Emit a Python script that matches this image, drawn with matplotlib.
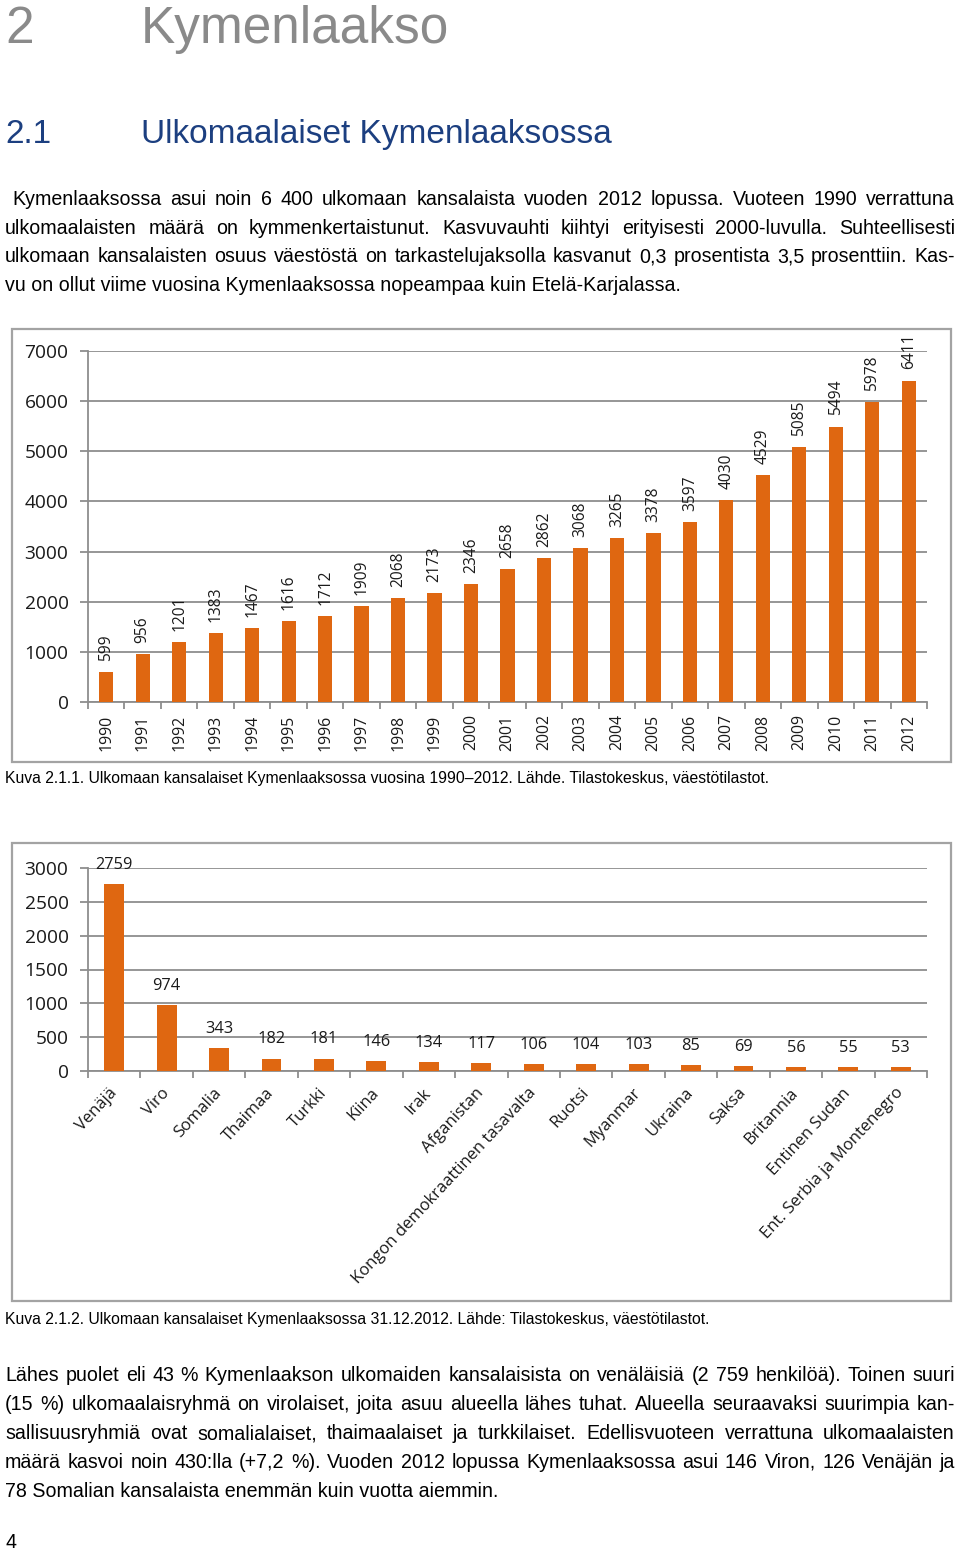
import matplotlib
matplotlib.use('Agg')
import matplotlib.pyplot as plt
from matplotlib.patches import Rectangle
import numpy as np

# ---------------- data ----------------
years = [str(y) for y in range(1990, 2013)]
foreigners = [599, 956, 1201, 1383, 1467, 1616, 1712, 1909, 2068, 2173, 2346,
              2658, 2862, 3068, 3265, 3378, 3597, 4030, 4529, 5085, 5494, 5978, 6411]
y1_ticks = [0, 1000, 2000, 3000, 4000, 5000, 6000, 7000]

countries = ['Venäjä', 'Viro', 'Somalia', 'Thaimaa', 'Turkki', 'Kiina', 'Irak',
             'Afganistan', 'Kongon demokraattinen tasavalta', 'Ruotsi', 'Myanmar',
             'Ukraina', 'Saksa', 'Britannia', 'Entinen Sudan', 'Ent. Serbia ja Montenegro']
country_counts = [2759, 974, 343, 182, 181, 146, 134, 117, 106, 104, 103, 85, 69, 56, 55, 53]
y2_ticks = [0, 500, 1000, 1500, 2000, 2500, 3000]

title_num = '2'
title_text = 'Kymenlaakso'
sub_num = '2.1'
sub_text = 'Ulkomaalaiset Kymenlaaksossa'
para1 = [
    'Kymenlaaksossa asui noin 6 400 ulkomaan kansalaista vuoden 2012 lopussa. Vuoteen 1990 verrattuna',
    'ulkomaalaisten määrä on kymmenkertaistunut. Kasvuvauhti kiihtyi erityisesti 2000-luvulla. Suhteellisesti',
    'ulkomaan kansalaisten osuus väestöstä on tarkastelujaksolla kasvanut 0,3 prosentista 3,5 prosenttiin. Kas-',
    'vu on ollut viime vuosina Kymenlaaksossa nopeampaa kuin Etelä-Karjalassa.',
]
caption1 = 'Kuva 2.1.1. Ulkomaan kansalaiset Kymenlaaksossa vuosina 1990–2012. Lähde. Tilastokeskus, väestötilastot.'
caption2 = 'Kuva 2.1.2. Ulkomaan kansalaiset Kymenlaaksossa 31.12.2012. Lähde: Tilastokeskus, väestötilastot.'
para2 = [
    'Lähes puolet eli 43 % Kymenlaakson ulkomaiden kansalaisista on venäläisiä (2 759 henkilöä). Toinen suuri',
    '(15 %) ulkomaalaisryhmä on virolaiset, joita asuu alueella lähes tuhat. Alueella seuraavaksi suurimpia kan-',
    'sallisuusryhmiä ovat somalialaiset, thaimaalaiset ja turkkilaiset. Edellisvuoteen verrattuna ulkomaalaisten',
    'määrä kasvoi noin 430:lla (+7,2 %). Vuoden 2012 lopussa Kymenlaaksossa asui 146 Viron, 126 Venäjän ja',
    '78 Somalian kansalaista enemmän kuin vuotta aiemmin.',
]
page_no = '4'

# ---------------- style ----------------
W, H = 960, 1552
BAR = '#DF6711'
GRID = '#8E8E8E'
BORDER = '#A3A3A3'
INK = '#1A1A1A'
CHART_FONT = 'Open Sans'
TEXT_FONT = 'Liberation Sans'

fig = plt.figure(figsize=(W / 100, H / 100), dpi=100)
fig.patch.set_facecolor('white')


def fx(x):
    return x / W


def fy(y):
    return 1 - y / H


renderer = fig.canvas.get_renderer()


def word_width(w, size):
    t = fig.text(0, 0, w, fontsize=size, family=TEXT_FONT)
    wd = t.get_window_extent(renderer).width
    t.remove()
    return wd


def text_line(txt, x0, x1, baseline, size, justify=True, color='black'):
    if not justify:
        fig.text(fx(x0), fy(baseline), txt, fontsize=size, family=TEXT_FONT,
                 va='baseline', ha='left', color=color)
        return
    words = txt.split(' ')
    widths = [word_width(w, size) for w in words]
    gap = (x1 - x0 - sum(widths)) / (len(words) - 1)
    x = x0
    for w, wd in zip(words, widths):
        fig.text(fx(x), fy(baseline), w, fontsize=size, family=TEXT_FONT,
                 va='baseline', ha='left', color=color)
        x += wd + gap


# ---------------- headings & text ----------------
fig.text(fx(5), fy(43), title_num, fontsize=37, family=TEXT_FONT, color='#8A8A8A', va='baseline')
fig.text(fx(141), fy(43), title_text, fontsize=37, family=TEXT_FONT, color='#8A8A8A', va='baseline')
fig.text(fx(5), fy(143), sub_num, fontsize=24, family=TEXT_FONT, color='#1C3F80', va='baseline')
fig.text(fx(141), fy(143), sub_text, fontsize=24, family=TEXT_FONT, color='#1C3F80', va='baseline')

BODY = 14.1
for i, line in enumerate(para1):
    x0 = 12 if i == 0 else 5
    text_line(line, x0, 955, 205 + i * 28.7, BODY, justify=(i < len(para1) - 1))

fig.text(fx(5), fy(783), caption1, fontsize=11.3, family=TEXT_FONT, va='baseline', color='black')
fig.text(fx(5), fy(1324), caption2, fontsize=11.3, family=TEXT_FONT, va='baseline', color='black')

for i, line in enumerate(para2):
    text_line(line, 5, 955, 1381 + i * 29, BODY, justify=(i < len(para2) - 1))

fig.text(fx(5), fy(1548), page_no, fontsize=BODY, family=TEXT_FONT, va='baseline', color='black')

# ---------------- chart boxes ----------------
for (top, bottom) in [(329, 762), (843, 1301)]:
    fig.patches.append(Rectangle((fx(12), fy(bottom)), fx(951) - fx(12), fy(top) - fy(bottom),
                                 transform=fig.transFigure, fill=False, ec=BORDER, lw=1.6))


def make_axes(top, bottom):
    return fig.add_axes([fx(88), fy(bottom), fx(927) - fx(88), fy(top) - fy(bottom)])


def style_axes(ax, n, yticks):
    ax.set_xlim(-0.5, n - 0.5)
    ax.set_ylim(yticks[0], yticks[-1])
    ax.set_yticks(yticks)
    ax.grid(axis='y', color=GRID, lw=1.3)
    ax.set_axisbelow(True)
    for s in ['top', 'right']:
        ax.spines[s].set_visible(False)
    for s in ['left', 'bottom']:
        ax.spines[s].set_color(GRID)
        ax.spines[s].set_linewidth(1.3)
    ax.tick_params(axis='y', length=6, width=1.3, color=GRID, pad=8, labelsize=13.8, labelcolor=INK)
    for lab in ax.get_yticklabels():
        lab.set_family(CHART_FONT)
    ax.set_xticks(np.arange(-0.5, n), minor=True)
    ax.tick_params(axis='x', which='minor', length=5, width=1.3, color=GRID)
    ax.tick_params(axis='x', which='major', length=0)
    ax.patch.set_alpha(0)


# ---------------- chart 1 ----------------
ax1 = make_axes(351, 702)
x1 = np.arange(len(years))
ax1.bar(x1, foreigners, width=0.39, color=BAR, zorder=3)
style_axes(ax1, len(years), y1_ticks)
ax1.set_xticks(x1)
ax1.set_xticklabels(years, rotation=90, fontsize=11.4, family=CHART_FONT, color=INK)
ax1.tick_params(axis='x', which='major', pad=9)
for xi, v in zip(x1, foreigners):
    ax1.annotate(str(v), (xi, v), xytext=(0, 8), textcoords='offset points', rotation=90,
                 ha='center', va='bottom', fontsize=11.2, family=CHART_FONT, color=INK,
                 annotation_clip=False)

# ---------------- chart 2 ----------------
ax2 = make_axes(868, 1071)
x2 = np.arange(len(countries))
ax2.bar(x2, country_counts, width=0.38, color=BAR, zorder=3)
style_axes(ax2, len(countries), y2_ticks)
ax2.set_xticks(x2)
ax2.set_xticklabels(countries, rotation=47, fontsize=12, family=CHART_FONT, color=INK,
                    ha='right', va='center', rotation_mode='anchor')
ax2.tick_params(axis='x', which='major', pad=14)
for xi, v in zip(x2, country_counts):
    ax2.annotate(str(v), (xi, v), xytext=(0, 11), textcoords='offset points',
                 ha='center', va='baseline', fontsize=11.8, family=CHART_FONT, color=INK,
                 annotation_clip=False)

fig.savefig('out.png', dpi=100, facecolor='white')
